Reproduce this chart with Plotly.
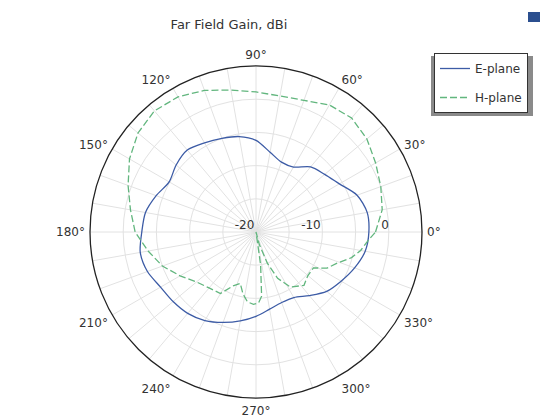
import plotly.graph_objects as go

# ---- data ----
e_theta = [0, 10, 20, 30, 40, 50, 60, 70, 80, 90, 100, 110, 120, 130, 140, 150, 160, 170,
           180, 190, 200, 210, 220, 230, 240, 250, 260, 270, 280, 290, 300, 310, 320, 330, 340, 350, 360]
e_gain = [-3.0, -3.0, -3.8, -5.5, -6.5, -7.2, -8.7, -8.8, -7.8, -6.2, -5.4, -5.0, -4.5, -3.9, -4.3, -4.9, -4.0, -3.1,
          -2.8, -2.3, -2.6, -3.4, -3.7, -4.0, -4.6, -5.5, -6.4, -7.3, -8.2, -8.7, -8.6, -7.5, -6.1, -5.2, -4.2, -3.3, -3.0]

h_theta = [0, 10, 20, 30, 40, 50, 60, 70, 80, 90, 100, 110, 120, 130, 140, 150, 160, 170,
           180, 190, 200, 210, 220, 230, 240, 247, 253, 258, 263, 268, 272, 275, 278, 281, 285,
           290, 295, 302, 312, 320, 328, 333, 339, 345, 350, 356, 360]
h_gain = [-2.0, -0.7, 0.0, 0.8, 1.8, 2.4, 2.1, 1.1, 0.8, 1.1, 1.7, 2.7, 3.5, 3.8, 3.2, 2.0, 0.5, -0.8,
          -1.8, -3.5, -5.0, -6.8, -8.3, -9.0, -9.3, -11.2, -11.9, -10.5, -9.4, -9.1, -9.3, -10.3, -15.0, -20.0, -18.0,
          -15.0, -12.3, -10.2, -9.2, -9.8, -9.8, -8.0, -6.9, -5.1, -4.0, -3.0, -2.0]

r_ticks = [-20, -15, -10, -5, 0, 5]
r_labels = ["-20", "", "-10", "", "0", ""]
a_ticks = list(range(0, 360, 10))
a_labels = [f"{a}°" if a % 30 == 0 else "" for a in a_ticks]

# page body has an 8px margin; lay out in window pixels and convert
OFF = 8
W, H = 550 - OFF, 417 - OFF


def px(x):
    return (x - OFF) / W


def py(y):
    return 1 - (y - OFF) / H


cx, cy, R = 256, 232, 166
NB = "\u00a0"

fig = go.Figure()
fig.add_trace(go.Scatterpolar(theta=e_theta, r=e_gain, mode="lines", name="E-plane",
                              legendgroup="e",
                              line=dict(color="#3d5ca6", width=1.3, shape="spline", smoothing=0.8)))
fig.add_trace(go.Scatterpolar(theta=h_theta, r=h_gain, mode="lines", name="H-plane",
                              legendgroup="h",
                              line=dict(color="#62b67e", width=1.3, dash="7px,3px")))

fig.update_layout(
    width=W, height=H,
    margin=dict(l=0, r=0, t=0, b=0),
    paper_bgcolor="white",
    font=dict(family="DejaVu Sans", size=12, color="#333333"),
    title=dict(text="Far Field Gain, dBi", x=px(229), xanchor="center", xref="paper",
               y=py(24), yanchor="middle", yref="container",
               font=dict(family="DejaVu Sans", size=13, color="#333333")),
    polar=dict(
        domain=dict(x=[px(cx - R), px(cx + R)], y=[py(cy + R), py(cy - R)]),
        bgcolor="white",
        radialaxis=dict(range=[-20, 5], tickvals=r_ticks,
                        ticktext=[t + NB * (2 * len(t)) if t else t for t in r_labels],
                        angle=0, side="counterclockwise",
                        showline=False, ticks="", gridcolor="#e2e2e2", gridwidth=1,
                        tickfont=dict(size=12, color="#333333")),
        angularaxis=dict(tickvals=a_ticks, ticktext=a_labels, direction="counterclockwise",
                         rotation=0, showline=True, linecolor="#222222", linewidth=1.3,
                         ticks="outside", ticklen=2, tickcolor="rgba(0,0,0,0)",
                         gridcolor="#e2e2e2", gridwidth=1,
                         tickfont=dict(size=12, color="#333333")),
    ),
    legend=dict(x=px(434), y=py(53), xanchor="left", yanchor="top",
                bgcolor="white", bordercolor="#333333", borderwidth=1,
                font=dict(size=12, color="#333333"), itemwidth=30,
                tracegroupgap=10),
    showlegend=True,
)

# legend drop shadow (down-left) and small icon at top right
fig.add_shape(type="rect", xref="paper", yref="paper",
              x0=px(431), x1=px(533), y0=py(116), y1=py(56),
              fillcolor="#8a8a8a", line=dict(width=0), layer="below")
fig.add_shape(type="rect", xref="paper", yref="paper",
              x0=px(528), x1=px(540), y0=py(22), y1=py(12),
              fillcolor="#2b4f8f", line=dict(width=0))

fig.write_html("out.html")
